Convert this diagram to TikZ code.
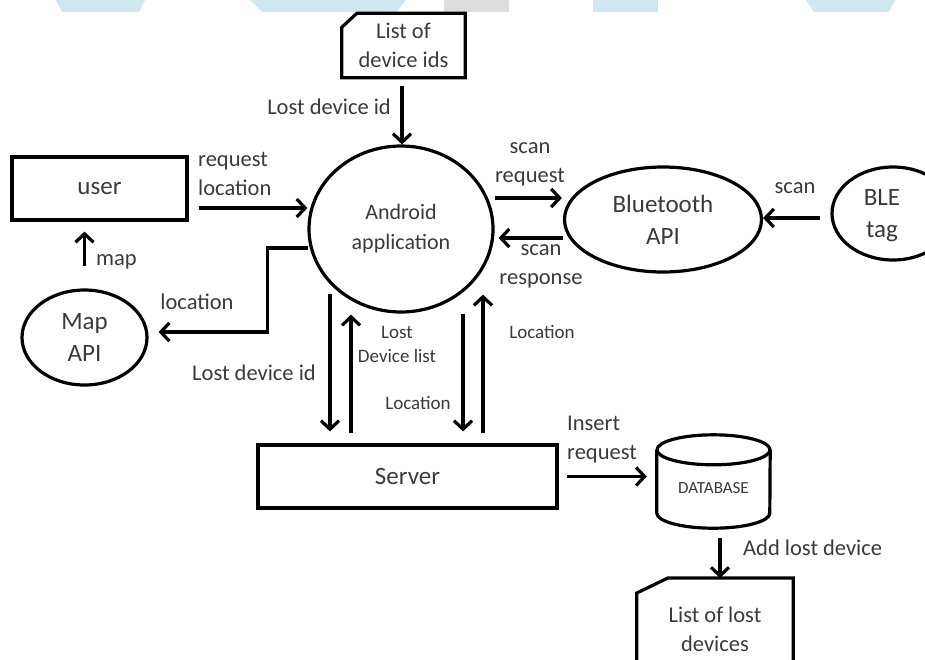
\documentclass[tikz,border=0pt]{standalone}
\usepackage{fontspec}
\setmainfont{Carlito}
\usetikzlibrary{arrows.meta,shapes.geometric,calc}
\definecolor{txt}{RGB}{58,58,58}
\definecolor{wmcyan}{RGB}{208,231,240}
\definecolor{wmgray}{RGB}{221,221,221}
\tikzset{
  ln/.style={line width=3.2pt, draw=black},
  arr/.style={line width=3.2pt, draw=black, -{Straight Barb[length=8.5pt,width=18pt]}},
  lbl/.style={text=txt, font=\fontsize{22.5}{29}\selectfont, align=center, inner sep=0pt},
  lbls/.style={text=txt, font=\fontsize{19}{24}\selectfont, align=center, inner sep=0pt},
  bigt/.style={text=txt, font=\fontsize{25}{32}\selectfont, align=center},
  andt/.style={text=txt, font=\fontsize{22}{30}\selectfont, align=center},
  dbt/.style={text=txt, font=\fontsize{17}{20}\selectfont, inner sep=0pt},
  ell/.style={ellipse, ln, inner sep=0pt},
  box/.style={rectangle, ln, inner sep=0pt},
}
\begin{document}
\begin{tikzpicture}[x=1pt,y=-1pt]
\useasboundingbox (0,0) rectangle (925,659);
% watermark
\fill[wmcyan] (56,0) -- (145,0) -- (139,12) -- (62,12) -- cycle;
\fill[wmcyan] (250,0) -- (406,0) -- (396,12) -- (262,12) -- cycle;
\fill[wmgray] (444,0) rectangle (509,12);
\fill[wmcyan] (593,0) rectangle (658,12);
\fill[wmcyan] (806,0) -- (895,0) -- (889,12) -- (814,12) -- cycle;

% nodes
\node[rectangle, inner sep=0pt, minimum width=123pt, minimum height=64pt, lbl] (devids) at (403.5,45.5) {List of\\device ids};
\draw[ln] ($(devids.north west)+(0,14)$) -- ($(devids.north west)+(15,0)$) -- (devids.north east) -- (devids.south east) -- (devids.south west) -- cycle;

\node[ell, minimum width=184pt, minimum height=166pt, andt] (android) at (401,229) {Android\\application};
\node[box, minimum width=175pt, minimum height=63pt, bigt] (user) at (99.5,188.5) {user};
\node[ell, minimum width=125pt, minimum height=95pt, bigt] (mapapi) at (84.5,337.5) {Map\\API};
\node[ell, minimum width=197pt, minimum height=105pt, bigt] (bt) at (663,219.5) {Bluetooth\\API};
\node[ell, minimum width=122pt, minimum height=93pt] (ble) at (893,213.5) {};
\node[bigt, inner sep=0pt] (bletext) at (882,216) {BLE\\tag};
\node[box, minimum width=299pt, minimum height=63pt, bigt] (server) at (407.5,476.5) {Server};

% database
\node[rectangle, inner sep=0pt, minimum width=113pt, minimum height=93pt] (db) at (713.5,481.5) {};
\draw[ln] ($(db.north)+(0,15)$) ellipse [x radius=56.5, y radius=15];
\draw[ln] ($(db.north west)+(0,15)$) -- ($(db.south west)+(0,-15)$) arc[start angle=180, end angle=0, x radius=56.5, y radius=15] -- ($(db.north east)+(0,15)$);
\node[dbt] (dbtext) at (713.5,488) {DATABASE};

% list of lost devices
\node[rectangle, inner sep=0pt, minimum width=156pt, minimum height=110pt, anchor=north] (lostlist) at (715,578) {};
\draw[ln] ($(lostlist.north west)+(0,15)$) -- ($(lostlist.north west)+(31,0)$) -- (lostlist.north east) -- (lostlist.south east) -- (lostlist.south west) -- cycle;
\node[lbl] (losttext) at (715,629) {List of lost\\devices};

% connectors
\draw[arr] ($(devids.south)+(-1.5,8)$) -- ($(devids.south |- android.north)+(-1.5,0)$);
\node[lbl, anchor=east] (l1) at (391,107) {Lost device id};

\draw[arr] ($(user.east |- 0,208)+(10,0)$) -- (android.west |- 0,208);
\node[lbl, anchor=west, align=left] (l2) at (198,174) {request\\location};

\draw[arr] ($(mapapi.north)+(0,-22)$) -- ($(mapapi.north |- user.south)+(0,10)$);
\node[lbl, anchor=west] (l3) at (96,262) {map};

\draw[arr] ($(android.west)+(1,19)$) -- ++(-41,0) |- ($(mapapi.east)+(10,-5.5)$);
\node[lbl] (l4) at (197,302) {location};

\draw[arr] (android.east |- 0,198) -- ($(bt.west |- 0,198)+(-1,0)$);
\node[lbl] (l5) at (530,164) {scan\\request};

\draw[arr] (bt.west |- 0,238) -- ($(android.east |- 0,238)+(4,0)$);
\node[lbl] (l6) at (541,266) {scan\\response};

\draw[arr] ($(ble.west)+(-10,4.5)$) -- (bt.east |- 0,218);
\node[lbl] (l7) at (795,188) {scan};

\draw[arr] ($(android.south)+(-71,-20)$) -- ($(server.north)+(-77.5,-12)$);
\draw[arr] ($(server.north)+(-56.5,-10)$) -- ($(android.south)+(-50,1)$);
\draw[arr] ($(android.south)+(62,0)$) -- ($(server.north)+(55.5,-12)$);
\draw[arr] ($(server.north)+(75.5,-10)$) -- ($(android.south)+(82,-19)$);
\node[lbl] (l8) at (254,373) {Lost device id};
\node[lbls] (l9) at (397,344) {Lost\\Device list};
\node[lbls] (l10) at (418,403) {Location};
\node[lbls] (l11) at (542,332) {Location};

\draw[arr] ($(server.east)+(8,0)$) -- ($(db.west |- server.east)+(-10,0)$);
\node[lbl, anchor=west, align=left] (l12) at (567,440) {Insert\\request};

\draw[arr] ($(db.south)+(6.5,10)$) -- ($(lostlist.north)+(5,0)$);
\node[lbl, anchor=west] (l13) at (743,548) {Add lost device};
\end{tikzpicture}
\end{document}
